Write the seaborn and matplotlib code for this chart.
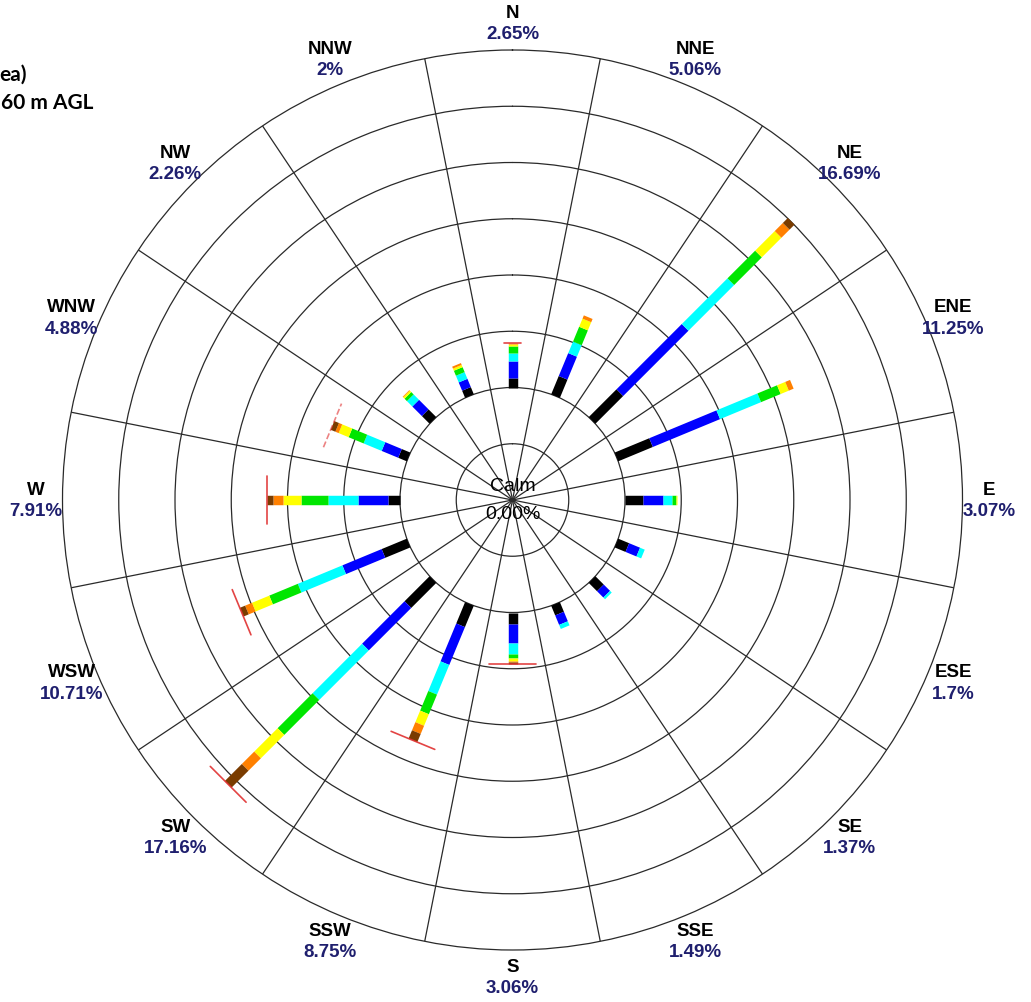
import numpy as np
import matplotlib.pyplot as plt
import seaborn as sns

# wind rose data: 16 directions, frequency (%) per speed class
directions = ["N", "NNE", "NE", "ENE", "E", "ESE", "SE", "SSE",
              "S", "SSW", "SW", "WSW", "W", "WNW", "NW", "NNW"]
dir_angles = [0, 22.5, 45, 67.5, 90, 112.5, 135, 157.5,
              180, 202.5, 225, 247.5, 270, 292.5, 315, 337.5]
pct_labels = ["2.65%", "5.06%", "16.69%", "11.25%", "3.07%", "1.7%", "1.37%", "1.49%",
              "3.06%", "8.75%", "17.16%", "10.71%", "7.91%", "4.88%", "2.26%", "2%"]

cls1 = [0.59, 1.17, 2.33, 2.22, 1.07, 0.70, 0.70, 0.62, 0.70, 1.37, 2.10, 1.61, 0.69, 0.55, 0.65, 0.46]
cls2 = [0.98, 1.47, 5.47, 4.31, 1.16, 0.70, 0.53, 0.61, 1.09, 2.43, 3.56, 2.52, 1.78, 1.06, 0.80, 0.53]
cls3 = [0.50, 0.74, 3.83, 2.63, 0.58, 0.30, 0.14, 0.26, 0.66, 1.90, 4.15, 2.86, 1.78, 1.16, 0.45, 0.43]
cls4 = [0.38, 0.95, 2.32, 1.26, 0.19, 0.00, 0.00, 0.00, 0.24, 1.26, 2.93, 1.83, 1.64, 0.96, 0.20, 0.32]
cls5 = [0.12, 0.52, 1.64, 0.52, 0.07, 0.00, 0.00, 0.00, 0.16, 0.74, 1.96, 1.11, 1.07, 0.64, 0.12, 0.14]
cls6 = [0.08, 0.21, 0.68, 0.31, 0.00, 0.00, 0.00, 0.00, 0.10, 0.52, 1.04, 0.44, 0.56, 0.21, 0.04, 0.12]
cls7 = [0.00, 0.00, 0.42, 0.00, 0.00, 0.00, 0.00, 0.00, 0.11, 0.53, 1.42, 0.34, 0.39, 0.30, 0.00, 0.00]
# red end markers (half length, in % units)
cap_len = [0.5, 0.0, 0.0, 0.0, 0.0, 0.0, 0.0, 0.0, 1.4, 1.4, 1.5, 1.45, 1.4, 1.4, 0.0, 0.0]
calm_label = "0.00%"

speed_classes = [cls1, cls2, cls3, cls4, cls5, cls6, cls7]
class_colors = ["#000000", "#0000ff", "#00ffff", "#00e600", "#ffff00", "#ff8000", "#7a3c00"]

sns.set_style("white")
plt.rcParams['font.family'] = ['Liberation Sans', 'DejaVu Sans']
plt.rcParams['text.color'] = 'black'

fig = plt.figure(figsize=(10.31, 10.03), dpi=100)
ax = fig.add_axes([62.5 / 1031, 52 / 1003, 900 / 1031, 900 / 1003], projection='polar')
ax.set_theta_zero_location('N')
ax.set_theta_direction(-1)

ring = 10 / 3
r0 = 2 * ring
ax.set_ylim(0, 8 * ring)
ax.set_yticks([ring * k for k in range(1, 8)])
ax.set_xticks(np.deg2rad(np.arange(11.25, 360, 22.5)))
ax.xaxis.set_major_formatter(plt.NullFormatter())
ax.yaxis.set_major_formatter(plt.NullFormatter())
ax.grid(True, color='#2a2a2a', linewidth=0.9)
ax.spines['polar'].set_color('#2a2a2a')
ax.spines['polar'].set_linewidth(0.9)

# stacked bars drawn as thick radial strokes
for i, ang in enumerate(dir_angles):
    th = np.deg2rad(ang)
    start = r0
    for vals, col in zip(speed_classes, class_colors):
        v = vals[i]
        if v > 0:
            ax.plot([th, th], [start, start + v], color=col, linewidth=6.8,
                    solid_capstyle='butt', zorder=3)
            start += v
    h = cap_len[i]
    if h > 0:
        d = np.arctan(h / start)
        re = np.hypot(start, h)
        ls = '--' if directions[i] == "WNW" else '-'
        ax.plot([th - d, th, th + d], [re, start, re], color='#e03030',
                linewidth=1.2, linestyle=ls, zorder=4, alpha=0.9 if ls == '-' else 0.6)

# direction labels
r_lab = 477 / 16.875
for i, ang in enumerate(dir_angles):
    th = np.deg2rad(ang)
    ax.annotate(directions[i], xy=(th, r_lab), xytext=(0, 7.6), textcoords='offset points',
                ha='center', va='center', fontsize=13.5, fontweight='bold',
                color='black', annotation_clip=False)
    ax.annotate(pct_labels[i], xy=(th, r_lab), xytext=(0, -7.6), textcoords='offset points',
                ha='center', va='center', fontsize=13.5, fontweight='bold',
                color='#1f1f6e', annotation_clip=False)

ax.annotate("Calm", xy=(0, 0), xytext=(0, 10.5), textcoords='offset points',
            ha='center', va='center', fontsize=14, color='black', zorder=5)
ax.annotate(calm_label, xy=(0, 0), xytext=(0, -10), textcoords='offset points',
            ha='center', va='center', fontsize=14, color='black', zorder=5)

fig.text(27 / 1031, 1 - 75 / 1003, "ea)", ha='right', va='center', color='black',
         fontsize=15, fontweight='bold', family=['Lato', 'DejaVu Sans'])
fig.text(93 / 1031, 1 - 103 / 1003, "60 m AGL", ha='right', va='center', color='black',
         fontsize=15, fontweight='bold', family=['Lato', 'DejaVu Sans'])

fig.savefig("out.png", dpi=100)
